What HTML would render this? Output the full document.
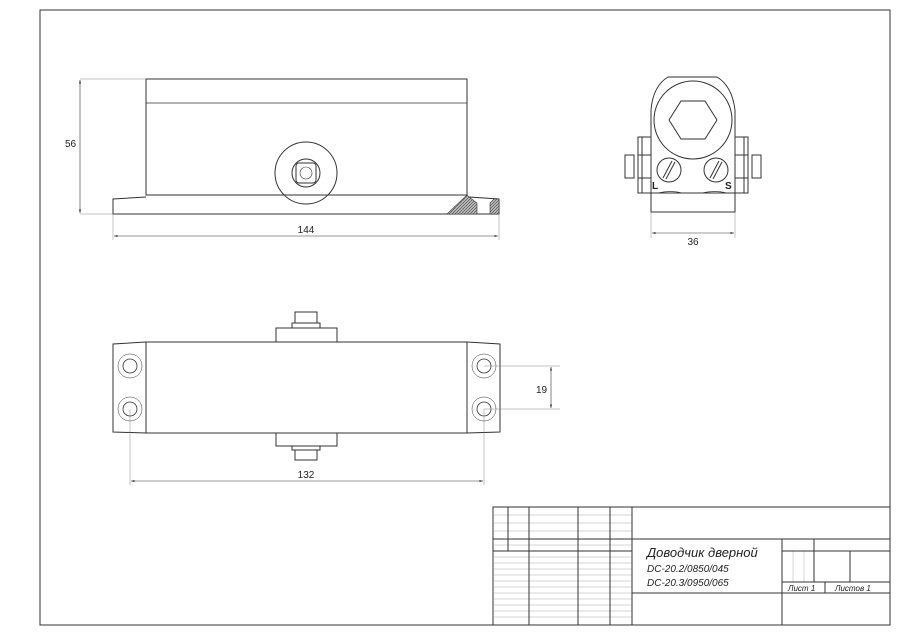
<!DOCTYPE html>
<html><head><meta charset="utf-8"><style>body{margin:0;background:#fff}svg{display:block}</style></head><body>
<svg width="900" height="636" viewBox="0 0 900 636" xmlns="http://www.w3.org/2000/svg" font-family="Liberation Sans, sans-serif">
<defs>
<marker id="a" viewBox="0 0 10 10" refX="10" refY="5" markerWidth="6" markerHeight="6" orient="auto-start-reverse"><path d="M0,2 L10,5 L0,8z" fill="#333"/></marker>
<pattern id="h" width="3" height="3" patternUnits="userSpaceOnUse"><rect width="3" height="3" fill="#bbb"/><path d="M0,3 L3,0" stroke="#555" stroke-width="0.7"/></pattern>
</defs>
<g fill="none" stroke="#333" stroke-width="1">
<rect x="40" y="10" width="850" height="615"/>
<!-- side view -->
<rect x="146" y="79" width="321" height="116" fill="none"/>
<line x1="146" y1="103" x2="467" y2="103" stroke-width="0.7"/>
<path d="M146,197 L113,199 L113,214 L499,214 L499,199 L469,197"/>
<path d="M447,214 L467,195 L469,197 L477,203 L477,214z" fill="url(#h)" stroke-width="0.6"/>
<path d="M490,214 L490,203 L494,199 L499,199 L499,214z" fill="url(#h)" stroke-width="0.6"/>
<circle cx="306" cy="173" r="31"/>
<circle cx="306" cy="173" r="14"/>
<rect x="296" y="163" width="20" height="20" rx="3"/>
<circle cx="306" cy="173" r="6" stroke-width="0.6"/>
<g stroke="#888" stroke-width="0.5"><line x1="80" y1="79" x2="146" y2="79"/><line x1="80" y1="214" x2="113" y2="214"/><line x1="113" y1="214" x2="113" y2="240"/><line x1="499" y1="214" x2="499" y2="240"/></g>
<line x1="80" y1="80" x2="80" y2="213" stroke-width="0.6" marker-start="url(#a)" marker-end="url(#a)"/>
<line x1="114" y1="236" x2="498" y2="236" stroke-width="0.6" marker-start="url(#a)" marker-end="url(#a)"/>
<!-- front view -->
<path d="M651,110 Q653,86 668,77 L717,77 Q732,86 735,110"/>
<rect x="651" y="110" width="84" height="102" stroke="none"/>
<path d="M651,110 L651,212 L735,212 L735,110"/>
<line x1="651" y1="193" x2="735" y2="193"/>
<circle cx="693" cy="120" r="39"/>
<polygon points="681,101 705,101 717,120 705,139 681,139 669,120"/>
<circle cx="669" cy="170" r="12"/><line x1="663" y1="178" x2="672" y2="161"/><line x1="666" y1="179" x2="675" y2="162"/>
<circle cx="716" cy="170" r="12"/><line x1="710" y1="178" x2="719" y2="161"/><line x1="713" y1="179" x2="722" y2="162"/>
<path d="M651,137 L638,137 L638,193 L651,193 M642,137 L642,193 M634,155 L634,178 L625,178 L625,155z"/>
<path d="M735,137 L748,137 L748,193 L735,193 M744,137 L744,193 M752,155 L752,178 L761,178 L761,155z"/>
<line x1="638" y1="155" x2="651" y2="155"/><line x1="638" y1="178" x2="651" y2="178"/>
<line x1="735" y1="155" x2="748" y2="155"/><line x1="735" y1="178" x2="748" y2="178"/>
<path d="M658,193 Q671,190 682,193 M702,193 Q715,190 727,193" stroke-width="0.7"/>
<g stroke="#888" stroke-width="0.5"><line x1="651" y1="212" x2="651" y2="238"/><line x1="735" y1="212" x2="735" y2="238"/></g>
<line x1="652" y1="233" x2="734" y2="233" stroke-width="0.6" marker-start="url(#a)" marker-end="url(#a)"/>
<!-- top view -->
<rect x="146" y="342" width="321" height="91"/>
<path d="M146,342 L113,344 L113,432 L146,433"/>
<path d="M467,342 L500,344 L500,432 L467,433"/>
<rect x="276" y="328" width="61" height="14"/>
<rect x="292" y="323" width="28" height="5"/>
<rect x="295" y="312" width="22" height="11"/>
<rect x="276" y="433" width="61" height="13"/>
<rect x="292" y="446" width="28" height="4"/>
<rect x="295" y="450" width="22" height="10"/>
<g stroke-width="0.8">
<circle cx="130" cy="366" r="12" stroke-width="0.5"/><circle cx="130" cy="366" r="7"/>
<circle cx="130" cy="409" r="12" stroke-width="0.5"/><circle cx="130" cy="409" r="7"/>
<circle cx="484" cy="366" r="12" stroke-width="0.5"/><circle cx="484" cy="366" r="7"/>
<circle cx="484" cy="409" r="12" stroke-width="0.5"/><circle cx="484" cy="409" r="7"/>
</g>
<g stroke="#888" stroke-width="0.5"><line x1="130" y1="409" x2="130" y2="485"/><line x1="484" y1="409" x2="484" y2="485"/><line x1="484" y1="366" x2="560" y2="366"/><line x1="484" y1="409" x2="560" y2="409"/></g>
<line x1="131" y1="481" x2="483" y2="481" stroke-width="0.6" marker-start="url(#a)" marker-end="url(#a)"/>
<line x1="551" y1="367" x2="551" y2="408" stroke-width="0.6" marker-start="url(#a)" marker-end="url(#a)"/>
<!-- title block -->
<rect x="493" y="507" width="397" height="118"/>
<g stroke-width="0.4" stroke="#999">
<line x1="493" y1="515" x2="632" y2="515"/><line x1="493" y1="523" x2="632" y2="523"/><line x1="493" y1="531" x2="632" y2="531"/><line x1="493" y1="545" x2="632" y2="545"/>
<line x1="493" y1="557" x2="632" y2="557"/><line x1="493" y1="563" x2="632" y2="563"/><line x1="493" y1="569" x2="632" y2="569"/><line x1="493" y1="575" x2="632" y2="575"/><line x1="493" y1="581" x2="632" y2="581"/><line x1="493" y1="587" x2="632" y2="587"/><line x1="493" y1="593" x2="632" y2="593"/><line x1="493" y1="599" x2="632" y2="599"/><line x1="493" y1="605" x2="632" y2="605"/><line x1="493" y1="611" x2="632" y2="611"/><line x1="493" y1="617" x2="632" y2="617"/>
<line x1="793" y1="551" x2="793" y2="582"/><line x1="804" y1="551" x2="804" y2="582"/>
</g>
<line x1="508" y1="507" x2="508" y2="551"/>
<line x1="529" y1="507" x2="529" y2="625"/>
<line x1="578" y1="507" x2="578" y2="625"/>
<line x1="610" y1="507" x2="610" y2="625"/>
<line x1="632" y1="507" x2="632" y2="625"/>
<line x1="493" y1="539" x2="890" y2="539"/>
<line x1="493" y1="551" x2="632" y2="551"/>
<line x1="632" y1="593" x2="890" y2="593"/>
<line x1="782" y1="539" x2="782" y2="625"/>
<line x1="814" y1="539" x2="814" y2="582"/>
<line x1="782" y1="551" x2="890" y2="551"/>
<line x1="850" y1="551" x2="850" y2="582"/>
<line x1="782" y1="582" x2="890" y2="582"/>
<line x1="825" y1="582" x2="825" y2="593"/>
</g>
<g fill="#222" font-size="10">
<text x="65" y="147">56</text>
<text x="306" y="233" text-anchor="middle">144</text>
<text x="693" y="245" text-anchor="middle">36</text>
<text x="306" y="478" text-anchor="middle">132</text>
<text x="536" y="393">19</text>
<text x="652" y="189" font-weight="bold" font-size="10">L</text>
<text x="725" y="189" font-weight="bold" font-size="10">S</text>
<text x="647" y="557" font-size="13" font-style="italic">Доводчик дверной</text>
<text x="647" y="572" font-style="italic">DC-20.2/0850/045</text>
<text x="647" y="586" font-style="italic">DC-20.3/0950/065</text>
<text x="788" y="591" font-size="8" font-style="italic">Лист 1</text>
<text x="835" y="591" font-size="8" font-style="italic">Листов 1</text>
</g>
</svg>
</body></html>
